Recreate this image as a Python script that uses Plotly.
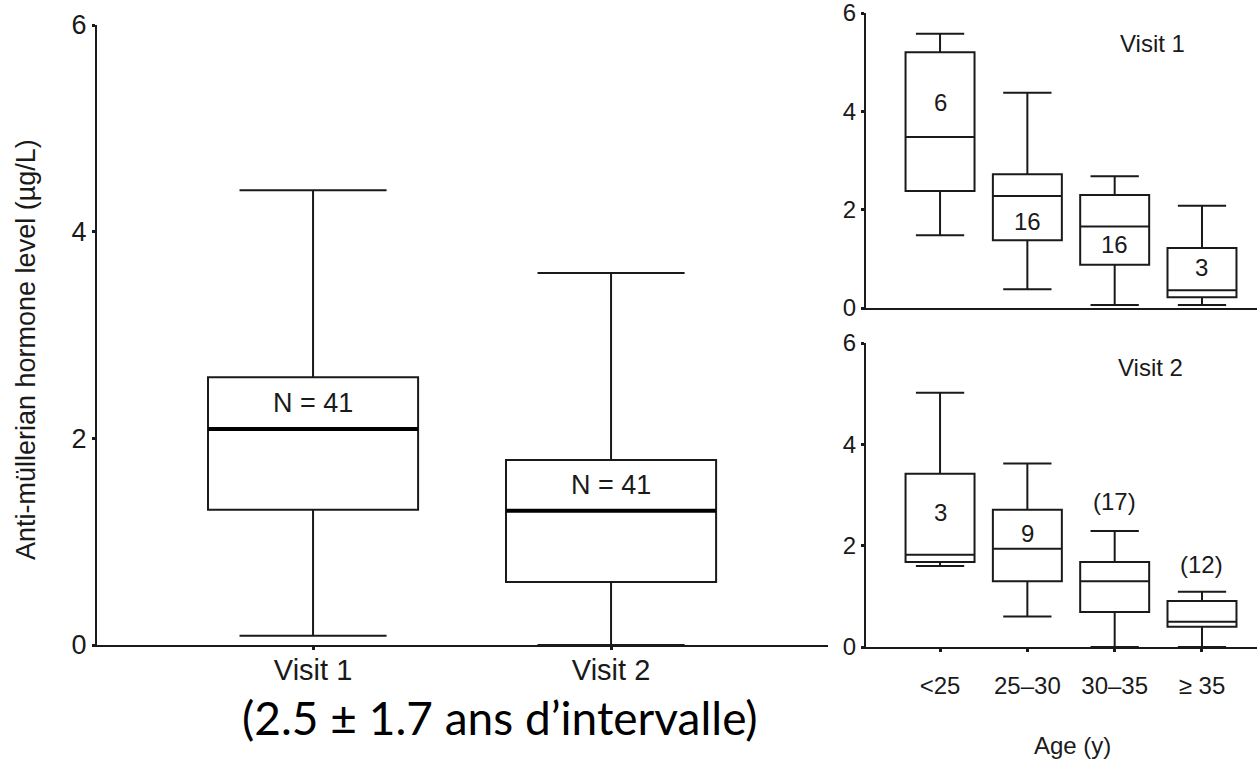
import plotly.graph_objects as go

# left panel: all women, two visits
visit_cats = ["Visit 1", "Visit 2"]
visit_low = [0.09, 0.0]
visit_q1 = [1.31, 0.61]
visit_med = [2.09, 1.30]
visit_q3 = [2.59, 1.79]
visit_high = [4.40, 3.60]
visit_n = ["N = 41", "N = 41"]
visit_n_y = [2.34, 1.55]

# right panels: by age group
age_cats = ["<25", "25–30", "30–35", "≥ 35"]

v1_low = [1.48, 0.38, 0.06, 0.06]
v1_q1 = [2.38, 1.38, 0.88, 0.22]
v1_med = [3.48, 2.28, 1.66, 0.36]
v1_q3 = [5.20, 2.72, 2.30, 1.22]
v1_high = [5.58, 4.38, 2.68, 2.08]
v1_n = ["6", "16", "16", "3"]
v1_n_y = [4.18, 1.76, 1.30, 0.82]

v2_low = [1.60, 0.60, 0.0, 0.0]
v2_q1 = [1.68, 1.30, 0.69, 0.40]
v2_med = [1.82, 1.94, 1.30, 0.50]
v2_q3 = [3.42, 2.71, 1.68, 0.91]
v2_high = [5.02, 3.62, 2.29, 1.09]
v2_n = ["3", "9", "(17)", "(12)"]
v2_n_y = [2.65, 2.25, 2.87, 1.62]

W, H = 1257, 760
INK = "#1a1a1a"
FONT = "Liberation Sans"


def box(x, low, q1, med, q3, high, xa, ya, width, lw=2):
    return go.Box(x=x, lowerfence=low, q1=q1, median=med, q3=q3, upperfence=high,
                  xaxis=xa, yaxis=ya, width=width, whiskerwidth=0.7,
                  fillcolor="white", line=dict(color=INK, width=lw),
                  boxpoints=False, showlegend=False, hoverinfo="skip")


def note(px, py, text, size, family=FONT, color=INK, angle=0):
    # free text placed in page pixels
    fig.add_annotation(x=px / W, y=1 - py / H, xref="paper", yref="paper", text=text,
                       xanchor="center", yanchor="middle", showarrow=False, textangle=angle,
                       font=dict(family=family, size=size, color=color))


fig = go.Figure()
fig.add_trace(box(visit_cats, visit_low, visit_q1, visit_med, visit_q3, visit_high, "x", "y", 0.705))
fig.add_trace(box(age_cats, v1_low, v1_q1, v1_med, v1_q3, v1_high, "x2", "y2", 0.79))
fig.add_trace(box(age_cats, v2_low, v2_q1, v2_med, v2_q3, v2_high, "x3", "y3", 0.79))

# thicker median lines on the big panel
for i, m in enumerate(visit_med):
    fig.add_shape(type="line", xref="x", yref="y", x0=i - 0.352, x1=i + 0.352, y0=m, y1=m,
                  line=dict(color="black", width=4))

for txt, yv, c in zip(visit_n, visit_n_y, visit_cats):
    fig.add_annotation(x=c, y=yv, xref="x", yref="y", text=txt, showarrow=False,
                       font=dict(family=FONT, size=27, color=INK))
for txt, yv, c in zip(v1_n, v1_n_y, age_cats):
    fig.add_annotation(x=c, y=yv, xref="x2", yref="y2", text=txt, showarrow=False,
                       font=dict(family=FONT, size=24, color=INK))
for txt, yv, c in zip(v2_n, v2_n_y, age_cats):
    fig.add_annotation(x=c, y=yv, xref="x3", yref="y3", text=txt, showarrow=False,
                       font=dict(family=FONT, size=24, color=INK))

axis_common = dict(showgrid=False, zeroline=False, showline=True, linecolor=INK,
                   linewidth=2, ticks="outside", tickcolor=INK, tickwidth=3, ticklen=3,
                   automargin=False, ticklabeloverflow="allow")

fig.update_layout(
    width=W, height=H,
    margin=dict(l=0, r=0, t=0, b=0),
    paper_bgcolor="white", plot_bgcolor="white",
    font=dict(family=FONT, color=INK),
    xaxis=dict(axis_common, domain=[97 / W, 828 / W], range=[-0.725, 1.728],
               categoryorder="array", categoryarray=visit_cats,
               tickfont=dict(size=29), ticklabelstandoff=-5, anchor="y"),
    yaxis=dict(axis_common, domain=[1 - 645 / H, 1 - 25 / H], range=[0, 6],
               tickvals=[0, 2, 4, 6], tickfont=dict(size=27), anchor="x"),
    xaxis2=dict(axis_common, domain=[866 / W, 1.0], range=[-0.848, 3.63],
                categoryorder="array", categoryarray=age_cats,
                showticklabels=False, ticks="", anchor="y2"),
    yaxis2=dict(axis_common, domain=[1 - 308 / H, 1 - 13 / H], range=[0, 6],
                tickvals=[0, 2, 4, 6], tickfont=dict(size=24), anchor="x2"),
    xaxis3=dict(axis_common, domain=[866 / W, 1.0], range=[-0.848, 3.63],
                categoryorder="array", categoryarray=age_cats,
                tickfont=dict(size=24), ticklabelstandoff=13, anchor="y3"),
    yaxis3=dict(axis_common, domain=[1 - 647 / H, 1 - 343 / H], range=[0, 6],
                tickvals=[0, 2, 4, 6], tickfont=dict(size=24), anchor="x3"),
)

note(26, 350, "Anti-müllerian hormone level (µg/L)", 27, angle=-90)
note(1152, 43, "Visit 1", 24)
note(1150, 367, "Visit 2", 24)
note(1072, 745, "Age (y)", 24)
note(500, 717, "(2.5 ± 1.7 ans d’intervalle)", 46, family="Lato", color="black")

# page has a default 8px body margin; drop it so the figure fills the window
fig.write_html("out.html", config={"displayModeBar": False},
               post_script="document.body.style.margin='0';")
